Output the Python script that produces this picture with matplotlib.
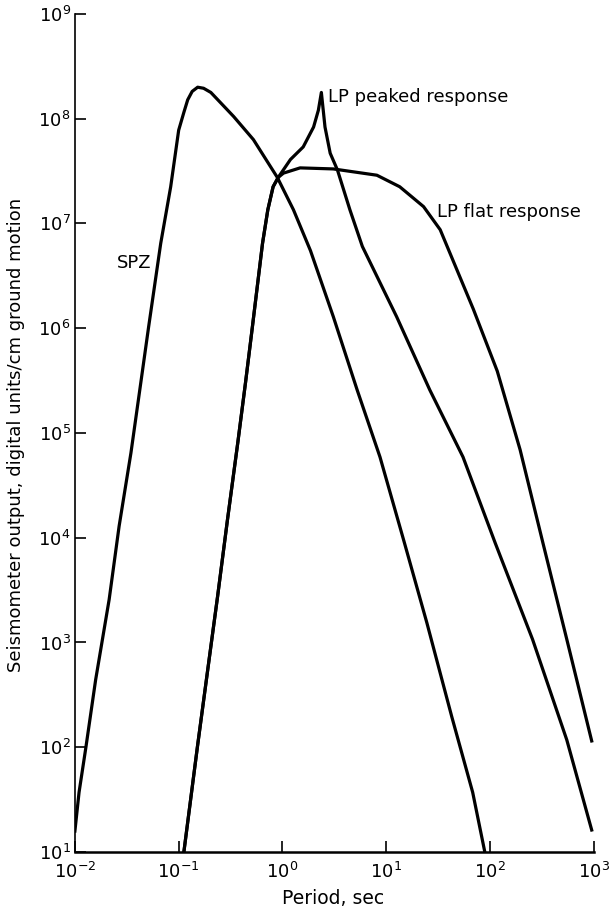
import numpy as np
import matplotlib
matplotlib.use('Agg')
import matplotlib.pyplot as plt
from matplotlib import font_manager

# values as log10(period) / log10(output)
spz_logx = [-2.0, -1.96, -1.894, -1.80, -1.67, -1.574, -1.46, -1.365, -1.29, -1.173,
            -1.077, -1.0, -0.95, -0.913, -0.87, -0.817, -0.76, -0.69, -0.47, -0.28,
            -0.05, 0.106, 0.27, 0.49, 0.72, 0.94, 1.17, 1.391, 1.632, 1.833, 1.95]
spz_logy = [1.2, 1.57, 2.0, 2.645, 3.41, 4.11, 4.81, 5.48, 6.01, 6.81,
            7.35, 7.89, 8.06, 8.18, 8.26, 8.30, 8.29, 8.25, 8.02, 7.80,
            7.44, 7.13, 6.74, 6.11, 5.41, 4.77, 3.97, 3.19, 2.29, 1.57, 1.0]

# both LP responses share the rising branch
lp_rise_logx = [-0.95, -0.82, -0.72, -0.625, -0.53, -0.43, -0.356, -0.29, -0.192, -0.141, -0.09, -0.04]
lp_rise_logy = [1.0, 2.0, 2.74, 3.44, 4.17, 4.91, 5.48, 6.01, 6.81, 7.13, 7.35, 7.44]

peaked_logx = [0.077, 0.20, 0.30, 0.346, 0.375, 0.41, 0.46, 0.53, 0.65, 0.77,
               1.1, 1.42, 1.74, 2.05, 2.41, 2.74, 2.98]
peaked_logy = [7.61, 7.73, 7.92, 8.08, 8.25, 7.92, 7.67, 7.51, 7.13, 6.78,
               6.11, 5.41, 4.77, 3.95, 3.03, 2.07, 1.21]

flat_logx = [0.01, 0.17, 0.49, 0.91, 1.13, 1.36, 1.52, 1.60, 1.84, 2.07, 2.29, 2.51, 2.74, 2.98]
flat_logy = [7.48, 7.53, 7.52, 7.46, 7.35, 7.16, 6.94, 6.75, 6.18, 5.59, 4.84, 3.95, 3.03, 2.06]

xticks = [1e-2, 1e-1, 1e0, 1e1, 1e2, 1e3]
xticklabels = ['$10^{-2}$', '$10^{-1}$', '$10^{0}$', '$10^{1}$', '$10^{2}$', '$10^{3}$']
yticks = [1e1, 1e2, 1e3, 1e4, 1e5, 1e6, 1e7, 1e8, 1e9]
yticklabels = ['$10^{%d}$' % k for k in range(1, 10)]

names = {f.name for f in font_manager.fontManager.ttflist}
if 'Liberation Sans Narrow' in names:
    family = 'Liberation Sans Narrow'
else:
    family = 'DejaVu Sans'
plt.rcParams['font.family'] = [family, 'DejaVu Sans']
plt.rcParams['mathtext.fontset'] = 'custom'
plt.rcParams['mathtext.rm'] = family
plt.rcParams['mathtext.it'] = family
plt.rcParams['mathtext.default'] = 'rm'

fig = plt.figure(figsize=(6.09, 9.13), dpi=100)
ax = fig.add_axes([0.123, 0.0668, 0.852, 0.918])

lw = 2.3
ax.plot(10 ** np.array(spz_logx), 10 ** np.array(spz_logy), color='black', lw=lw,
        solid_joinstyle='round')
ax.plot(10 ** np.array(lp_rise_logx + peaked_logx), 10 ** np.array(lp_rise_logy + peaked_logy),
        color='black', lw=lw, solid_joinstyle='round')
ax.plot(10 ** np.array(lp_rise_logx + flat_logx), 10 ** np.array(lp_rise_logy + flat_logy),
        color='black', lw=lw, solid_joinstyle='round')

ax.set_xscale('log')
ax.set_yscale('log')
ax.set_xlim(1e-2, 1e3)
ax.set_ylim(1e1, 1e9)
ax.set_xticks(xticks)
ax.set_xticklabels(xticklabels)
ax.set_yticks(yticks)
ax.set_yticklabels(yticklabels)
ax.minorticks_off()
ax.tick_params(direction='in', length=8, width=1.2, labelsize=13)
ax.tick_params(axis='y', pad=3)
ax.tick_params(axis='x', pad=7)

ax.spines['top'].set_visible(False)
ax.spines['right'].set_visible(False)
ax.spines['left'].set_linewidth(1.2)
ax.spines['bottom'].set_linewidth(1.8)

ax.text(10 ** -1.43, 10 ** 6.62, 'SPZ', ha='center', va='center', fontsize=13)
ax.text(10 ** 0.442, 10 ** 8.21, 'LP peaked response', ha='left', va='center', fontsize=13)
ax.text(10 ** 1.49, 10 ** 7.11, 'LP flat response', ha='left', va='center', fontsize=13)

fig.text(0.547, 0.0164, 'Period, sec', ha='center', va='center', fontsize=13.5)
fig.text(0.026, 0.524, 'Seismometer output, digital units/cm ground motion',
         rotation=90, ha='center', va='center', fontsize=13)

fig.savefig('out.png', dpi=100)
